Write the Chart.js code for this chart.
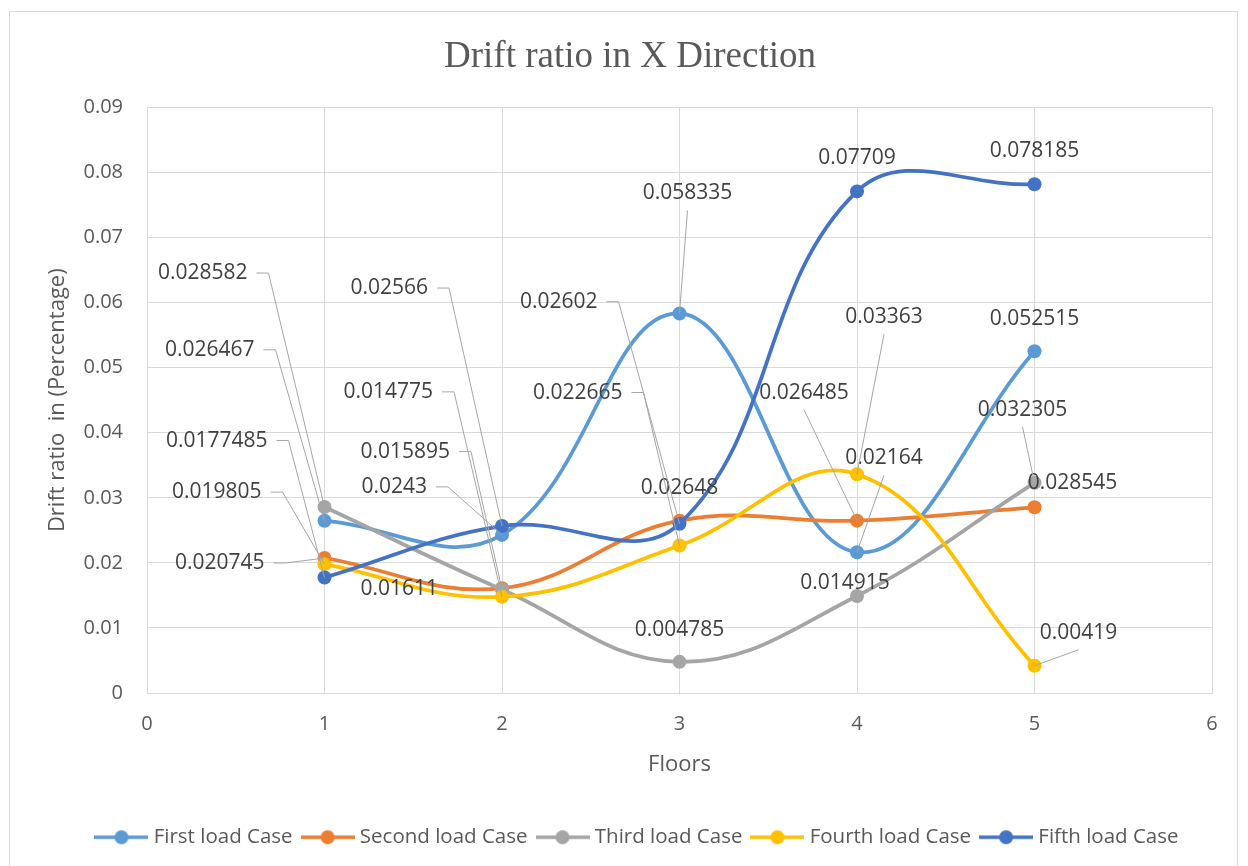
<!DOCTYPE html>
<html>
<head>
<meta charset="utf-8">
<script src="https://cdn.jsdelivr.net/npm/chart.js@4"></script>
<style>
  html, body { margin: 0; padding: 0; background: #fff; }
  canvas { display: block; }
</style>
</head>
<body>
<canvas id="chart" width="1248" height="866"></canvas>
<script>
// ---------- data ----------
const floors = [1, 2, 3, 4, 5];
const seriesNames = ["First load Case", "Second load Case", "Third load Case", "Fourth load Case", "Fifth load Case"];
const firstCase  = [0.026467, 0.0243, 0.058335, 0.02164, 0.052515];
const secondCase = [0.020745, 0.01611, 0.02648, 0.026485, 0.028545];
const thirdCase  = [0.028582, 0.015895, 0.004785, 0.014915, 0.032305];
const fourthCase = [0.019805, 0.014775, 0.022665, 0.03363, 0.00419];
const fifthCase  = [0.0177485, 0.02566, 0.02602, 0.07709, 0.078185];
const xTicks = [0, 1, 2, 3, 4, 5, 6];
const yTicks = [0, 0.01, 0.02, 0.03, 0.04, 0.05, 0.06, 0.07, 0.08, 0.09];

const colors = ["#5B9BD5", "#ED7D31", "#A5A5A5", "#FFC000", "#4472C4"];
const allSeries = [firstCase, secondCase, thirdCase, fourthCase, fifthCase];

// label placement, pixel offsets from the point
// L = text to the left with elbow leader, L0 = left without leader
// A = centred text, AL = centred text with leader
const labelPlace = [
  [[-70, -171, "L"], [-75, -48, "L"], [8, -120, "AL"], [27, -94, "AL"], [0, -32, "A"]],
  [[-60, 5, "L"], [-64, 1, "L0"], [0, -33, "A"], [-53, -128, "AL"], [38, -24, "A"]],
  [[-77, -234, "L"], [-52, -138, "L"], [0, -32, "A"], [-12, -13, "A"], [-12, -73, "AL"]],
  [[-63, -72, "L"], [-69, -205, "L"], [-57, -153, "L"], [27, -157, "AL"], [44, -33, "AL"]],
  [[-57, -137, "L"], [-74, -238, "L"], [-82, -222, "L"], [0, -33, "A"], [0, -33, "A"]]
];

const FONT = "'Open Sans', 'Noto Sans', sans-serif";

// legend marker: line with a dot
function makeMarker(color) {
  const c = document.createElement("canvas");
  c.width = 54; c.height = 16;
  const g = c.getContext("2d");
  g.strokeStyle = color; g.lineWidth = 3.5;
  g.beginPath(); g.moveTo(0, 8); g.lineTo(54, 8); g.stroke();
  g.fillStyle = color;
  g.beginPath(); g.arc(27, 8, 7, 0, Math.PI * 2); g.fill();
  return c;
}
const markers = colors.map(makeMarker);

const frame = {
  id: "frame",
  beforeDraw(chart) {
    const ctx = chart.ctx;
    ctx.save();
    ctx.fillStyle = "#fff";
    ctx.fillRect(0, 0, chart.width, chart.height);
    ctx.strokeStyle = "#d9d9d9";
    ctx.lineWidth = 1;
    ctx.strokeRect(9.5, 11.5, 1228, 870);
    ctx.restore();
  },
  afterLayout(chart) {
    // centre title and legend on the outer frame like Excel does
    if (chart.titleBlock) { chart.titleBlock.left += 19; chart.titleBlock.right += 19; }
    if (chart.legend) { chart.legend.left += 28; chart.legend.right += 28; }
  }
};

const dataLabels = {
  id: "dataLabels",
  afterDatasetsDraw(chart) {
    const ctx = chart.ctx;
    ctx.save();
    ctx.font = "21px " + FONT;
    ctx.textBaseline = "middle";
    chart.data.datasets.forEach((ds, di) => {
      const meta = chart.getDatasetMeta(di);
      meta.data.forEach((pt, i) => {
        const [dx, dy, kind] = labelPlace[di][i];
        const text = String(ds.data[i].y);
        const cy = pt.y + dy;
        ctx.strokeStyle = "#a6a6a6";
        ctx.lineWidth = 1;
        if (kind === "L" || kind === "L0") {
          const right = pt.x + dx;
          if (kind === "L") {
            ctx.beginPath();
            ctx.moveTo(right + 9, cy);
            ctx.lineTo(right + 21, cy);
            ctx.lineTo(pt.x, pt.y);
            ctx.stroke();
          }
          ctx.textAlign = "right";
          ctx.fillStyle = "#404040";
          ctx.fillText(text, right, cy);
        } else {
          const cx = pt.x + dx;
          if (kind === "AL") {
            ctx.beginPath();
            ctx.moveTo(cx, cy + 17);
            ctx.lineTo(pt.x, pt.y);
            ctx.stroke();
          }
          ctx.textAlign = "center";
          ctx.fillStyle = "#404040";
          ctx.fillText(text, cx, cy);
        }
      });
    });
    ctx.restore();
  }
};

const datasets = allSeries.map((vals, k) => ({
  label: seriesNames[k],
  data: floors.map((f, i) => ({ x: f, y: vals[i] })),
  borderColor: colors[k],
  backgroundColor: colors[k],
  pointBackgroundColor: colors[k],
  pointBorderColor: colors[k],
  borderWidth: 3.75,
  pointRadius: 7,
  pointBorderWidth: 0,
  tension: 0.4,
  fill: false,
  order: 5 - k
}));

new Chart(document.getElementById("chart"), {
  type: "line",
  data: { datasets },
  options: {
    responsive: false,
    animation: false,
    devicePixelRatio: 1,
    layout: { padding: { left: 10, right: 36, top: 0, bottom: 8.5 } },
    plugins: {
      title: {
        display: true,
        text: "Drift ratio in X Direction",
        color: "#595959",
        font: { family: "'Liberation Serif', 'DejaVu Serif', serif", size: 37, weight: "normal" },
        padding: { top: 35, bottom: 28 }
      },
      legend: {
        position: "bottom",
        labels: {
          color: "#595959",
          font: { family: FONT, size: 20.5 },
          usePointStyle: true,
          pointStyleWidth: 44,
          padding: 13,
          sort: (a, b) => a.datasetIndex - b.datasetIndex,
          generateLabels(chart) {
            const items = Chart.defaults.plugins.legend.labels.generateLabels(chart);
            items.forEach(it => { it.pointStyle = markers[it.datasetIndex]; });
            return items;
          }
        }
      },
      tooltip: { enabled: false }
    },
    scales: {
      x: {
        type: "linear",
        min: 0, max: 6,
        afterBuildTicks: s => { s.ticks = xTicks.map(v => ({ value: v })); },
        afterFit: s => { s.height = 121; },
        grid: { color: "#d9d9d9", drawTicks: false },
        border: { color: "#d9d9d9" },
        ticks: { color: "#595959", font: { family: FONT, size: 20 }, padding: 19 },
        title: {
          display: true, text: "Floors", color: "#595959",
          font: { family: FONT, size: 22 },
          padding: { top: 0, bottom: 36 }
        }
      },
      y: {
        min: 0, max: 0.09,
        afterBuildTicks: s => { s.ticks = yTicks.map(v => ({ value: v })); },
        afterFit: s => { s.width = 137; },
        grid: { color: "#d9d9d9", drawTicks: false },
        border: { color: "#d9d9d9" },
        ticks: { color: "#595959", font: { family: FONT, size: 20 }, padding: 24,
                 callback: v => String(Number(v.toFixed(2))) },
        title: {
          display: true, text: "Drift ratio  in (Percentage)", color: "#595959",
          font: { family: FONT, size: 22 },
          padding: { top: 35, bottom: 0 }
        }
      }
    }
  },
  plugins: [frame, dataLabels]
});
</script>
</body>
</html>
